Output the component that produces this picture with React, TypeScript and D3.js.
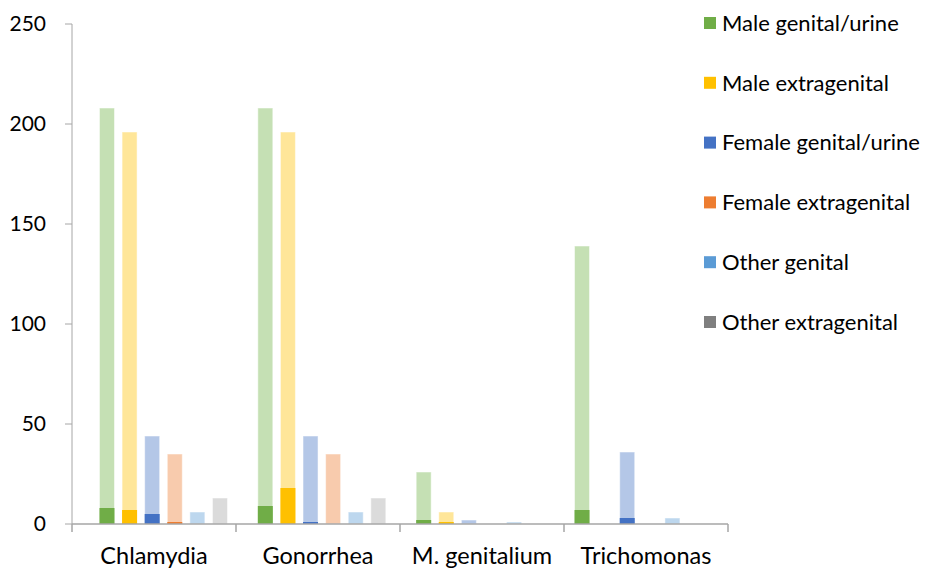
import React from "react";
import * as d3 from "d3";

const categories = ["Chlamydia", "Gonorrhea", "M. genitalium", "Trichomonas"];
const seriesNames = [
  "Male genital/urine",
  "Male extragenital",
  "Female genital/urine",
  "Female extragenital",
  "Other genital",
  "Other extragenital",
];
// total tested per series, per category
const totals = [
  [208, 208, 26, 139],
  [196, 196, 6, 0],
  [44, 44, 2, 36],
  [35, 35, 0, 0],
  [6, 6, 1, 3],
  [13, 13, 0, 0],
];
// positives per series, per category
const positives = [
  [8, 9, 2, 7],
  [7, 18, 1, 0],
  [5, 1, 0, 3],
  [1, 0, 0, 0],
  [0, 0, 0, 0],
  [0, 0, 0, 0],
];
const yTicks = [0, 50, 100, 150, 200, 250];
const darkColors = ["#70AD47", "#FFC000", "#4472C4", "#ED7D31", "#5B9BD5", "#7F7F7F"];
const lightColors = ["#C5E0B4", "#FFE699", "#B4C7E7", "#F8CBAD", "#BDD7EE", "#DBDBDB"];

const FONT = "Lato, 'Open Sans', sans-serif";

export default function App() {
  const W = 927, H = 571;
  const y = d3.scaleLinear().domain([0, 250]).range([524, 24]);
  const xAxis = d3.scaleBand<string>().domain(categories).range([72, 728]);
  const xGroup = d3.scaleBand<string>().domain(categories).range([84.3, 717.7]);
  const slot = 22.6;
  const barW = 15;
  const inner = d3
    .scaleBand<number>()
    .domain(d3.range(seriesNames.length))
    .range([-3 * slot, 3 * slot]);
  const axisColor = "#A6A6A6";
  const boundaries = [...categories.map((c) => xAxis(c)!), 728];

  return (
    <svg width={W} height={H} style={{ position: "absolute", left: 0, top: 0 }}>
      <rect width={W} height={H} fill="#fff" />
      {seriesNames.map((s, si) =>
        categories.map((c, ci) => {
          const cx = xGroup(c)! + xGroup.bandwidth() / 2 + inner(si)! + (slot - barW) / 2;
          const t = totals[si][ci];
          const p = positives[si][ci];
          return (
            <g key={`${si}-${ci}`}>
              {t > 0 && (
                <rect
                  x={cx}
                  y={y(t)}
                  width={barW}
                  height={y(0) - y(t)}
                  fill={lightColors[si]}
                  stroke="#ffffff"
                  strokeOpacity={0.5}
                  strokeWidth={1}
                />
              )}
              {p > 0 && (
                <rect x={cx} y={y(p)} width={barW} height={y(0) - y(p)} fill={darkColors[si]} />
              )}
            </g>
          );
        })
      )}
      <line x1={72} x2={72} y1={y(250)} y2={y(0)} stroke={axisColor} strokeWidth={1} />
      {yTicks.map((t) => (
        <g key={t}>
          <line x1={65} x2={72} y1={y(t)} y2={y(t)} stroke={axisColor} />
          <text
            x={46}
            y={y(t)}
            dy="0.35em"
            textAnchor="end"
            fontFamily={FONT}
            fontSize={21}
            fill="#000"
          >
            {t}
          </text>
        </g>
      ))}
      <line x1={72} x2={728} y1={y(0)} y2={y(0)} stroke={axisColor} strokeWidth={1.5} />
      {boundaries.map((b, i) => (
        <line key={i} x1={b} x2={b} y1={y(0)} y2={y(0) + 8} stroke={axisColor} strokeWidth={1.5} />
      ))}
      {categories.map((c) => (
        <text
          key={c}
          x={xAxis(c)! + xAxis.bandwidth() / 2}
          y={564}
          textAnchor="middle"
          fontFamily={FONT}
          fontSize={23.5}
          fill="#000"
        >
          {c}
        </text>
      ))}
      {seriesNames.map((s, i) => {
        const ly = 23 + i * 59.8;
        return (
          <g key={s}>
            <rect x={704} y={ly - 6} width={12} height={12} fill={darkColors[i]} />
            <text x={722} y={ly} dy="0.35em" fontFamily={FONT} fontSize={22} fill="#000">
              {s}
            </text>
          </g>
        );
      })}
    </svg>
  );
}
